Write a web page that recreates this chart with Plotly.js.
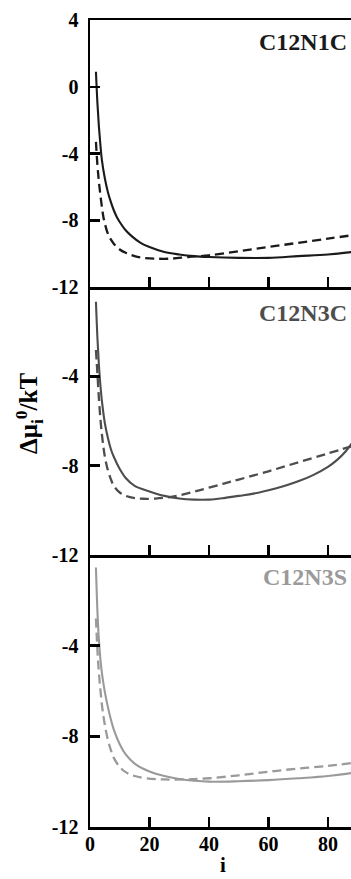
<!DOCTYPE html>
<html>
<head>
<meta charset="utf-8">
<script src="https://cdn.plot.ly/plotly-3.0.1.min.js"></script>
<style>html,body{margin:0;padding:0;background:#fff;}#chart{width:351px;height:879px;}</style>
</head>
<body>
<div id="chart"></div>
<script>
// C12N1C
const n1c_solid_i = [2, 2.5, 3, 3.5, 4, 5, 6, 7, 8, 9, 10, 12, 14, 17, 20, 25, 30, 35, 40, 50, 60, 70, 80, 88];
const n1c_solid_y = [0.9, -1.0, -2.4, -3.5, -4.4, -5.5, -6.3, -6.9, -7.4, -7.8, -8.1, -8.6, -8.95, -9.35, -9.6, -9.9, -10.05, -10.15, -10.2, -10.25, -10.25, -10.15, -10.05, -9.9];
const n1c_dash_i = [2, 2.5, 3, 3.5, 4, 4.5, 5, 6, 7, 8, 10, 12, 15, 18, 22, 27, 33, 40, 50, 60, 70, 80, 88];
const n1c_dash_y = [-3.3, -4.7, -5.7, -6.5, -7.2, -7.8, -8.2, -8.8, -9.15, -9.4, -9.75, -9.95, -10.15, -10.25, -10.3, -10.3, -10.2, -10.1, -9.85, -9.6, -9.35, -9.1, -8.9];
// C12N3C
const n3c_solid_i = [2, 2.5, 3, 3.5, 4, 5, 6, 7, 8, 10, 12, 15, 20, 25, 30, 35, 40, 45, 50, 55, 60, 65, 70, 75, 80, 83, 86, 88];
const n3c_solid_y = [-0.66, -2.3, -3.5, -4.4, -5.1, -6.1, -6.75, -7.25, -7.6, -8.15, -8.55, -8.9, -9.15, -9.35, -9.47, -9.52, -9.52, -9.45, -9.35, -9.25, -9.1, -8.92, -8.7, -8.42, -8.05, -7.75, -7.35, -7.0];
const n3c_dash_i = [2, 2.5, 3, 3.5, 4, 4.5, 5, 6, 7, 8, 10, 12, 15, 18, 22, 26, 30, 37, 45, 50, 60, 70, 80, 88];
const n3c_dash_y = [-2.82, -3.9, -5.0, -5.9, -6.6, -7.15, -7.6, -8.2, -8.6, -8.9, -9.2, -9.35, -9.45, -9.48, -9.47, -9.42, -9.33, -9.09, -8.8, -8.62, -8.25, -7.85, -7.45, -7.13];
// C12N3S
const n3s_solid_i = [2, 2.5, 3, 3.5, 4, 5, 6, 7, 8, 10, 12, 15, 20, 25, 30, 35, 40, 50, 60, 70, 80, 88];
const n3s_solid_y = [-0.55, -2.5, -3.75, -4.6, -5.2, -6.05, -6.7, -7.25, -7.7, -8.35, -8.8, -9.2, -9.55, -9.75, -9.88, -9.96, -10.0, -9.98, -9.93, -9.85, -9.75, -9.62];
const n3s_dash_i = [2, 2.5, 3, 3.5, 4, 4.5, 5, 6, 7, 8, 10, 12, 15, 19, 25, 32, 40, 50, 60, 70, 80, 88];
const n3s_dash_y = [-2.8, -4.2, -5.2, -5.95, -6.6, -7.1, -7.5, -8.15, -8.6, -8.95, -9.35, -9.58, -9.75, -9.85, -9.9, -9.9, -9.85, -9.72, -9.56, -9.42, -9.3, -9.18];

const panelNames = ["C12N1C", "C12N3C", "C12N3S"];
const xTickVals = [0, 20, 40, 60, 80];
const y1TickVals = [4, 0, -4, -8, -12];
const y23TickVals = [-4, -8, -12];

const colors = ["#1a1a1a", "#4d4d4d", "#9a9a9a"];
const serif = "Liberation Serif, Times New Roman, serif";

function tr(x, y, ax, color, dashed) {
  return {
    x: x, y: y, xaxis: ax[0], yaxis: ax[1], type: "scatter", mode: "lines",
    line: {color: color, width: dashed ? 2.3 : 2.1, dash: dashed ? "9px,5px" : "solid", shape: "spline", smoothing: 1.0},
    hoverinfo: "skip", showlegend: false
  };
}

const data = [
  tr(n1c_solid_i, n1c_solid_y, ["x", "y"], colors[0], false),
  tr(n1c_dash_i, n1c_dash_y, ["x", "y"], colors[0], true),
  tr(n3c_solid_i, n3c_solid_y, ["x2", "y2"], colors[1], false),
  tr(n3c_dash_i, n3c_dash_y, ["x2", "y2"], colors[1], true),
  tr(n3s_solid_i, n3s_solid_y, ["x3", "y3"], colors[2], false),
  tr(n3s_dash_i, n3s_dash_y, ["x3", "y3"], colors[2], true)
];

const tickFont = {family: serif, size: 20, color: "#000", weight: "bold"};
function xax(anchor, showLabels, mirror) {
  return {
    anchor: anchor, domain: [0, 1], range: [0, 87.75],
    tickvals: xTickVals, ticktext: xTickVals.map(String), showticklabels: showLabels,
    ticks: "inside", ticklen: 10, tickwidth: 2.5, tickcolor: "#000",
    showline: true, linewidth: 2.5, linecolor: "#000", mirror: mirror,
    showgrid: false, zeroline: false, tickfont: tickFont, ticklabelstandoff: -3, fixedrange: true
  };
}
function yax(anchor, dom, range, vals) {
  return {
    anchor: anchor, domain: dom, range: range,
    tickvals: vals, ticktext: vals.map(String),
    ticks: "inside", ticklen: 10, tickwidth: 2.5, tickcolor: "#000",
    showline: true, linewidth: 2.5, linecolor: "#000", mirror: false,
    showgrid: false, zeroline: false, tickfont: tickFont, ticklabelstandoff: 5, fixedrange: true
  };
}

const layout = {
  width: 351, height: 879,
  margin: {l: 90, r: 0, t: 20, b: 52},
  paper_bgcolor: "#fff", plot_bgcolor: "#fff",
  showlegend: false,
  xaxis: xax("y", false, true),
  xaxis2: xax("y2", false, false),
  xaxis3: xax("y3", true, false),
  yaxis: yax("x", [0.6691, 1], [-12, 4], y1TickVals),
  yaxis2: yax("x2", [0.337, 0.6691], [-12, 0], y23TickVals),
  yaxis3: yax("x3", [0, 0.337], [-12, 0], y23TickVals),
  annotations: [
    {text: panelNames[0], xref: "paper", yref: "paper", x: 1, y: 0.9727, xanchor: "right", yanchor: "middle", xshift: -2, showarrow: false, font: {family: serif, size: 24, color: colors[0], weight: "bold"}},
    {text: panelNames[1], xref: "paper", yref: "paper", x: 1, y: 0.637, xanchor: "right", yanchor: "middle", xshift: -2, showarrow: false, font: {family: serif, size: 24, color: colors[1], weight: "bold"}},
    {text: panelNames[2], xref: "paper", yref: "paper", x: 1, y: 0.3098, xanchor: "right", yanchor: "middle", xshift: -2, showarrow: false, font: {family: serif, size: 24, color: colors[2], weight: "bold"}},
    {text: "Δμ<sub>i</sub><sup>0</sup>/kT", xref: "paper", yref: "paper", x: -0.234, y: 0.513, xanchor: "center", yanchor: "middle", textangle: -90, showarrow: false, font: {family: serif, size: 25, color: "#000", weight: "bold"}},
    {text: "i", xref: "paper", yref: "paper", x: 0.51, y: -0.0644, xanchor: "center", yanchor: "bottom", showarrow: false, font: {family: serif, size: 21, color: "#000", weight: "bold"}}
  ]
};

Plotly.newPlot("chart", data, layout, {staticPlot: true, displayModeBar: false});
</script>
</body>
</html>
